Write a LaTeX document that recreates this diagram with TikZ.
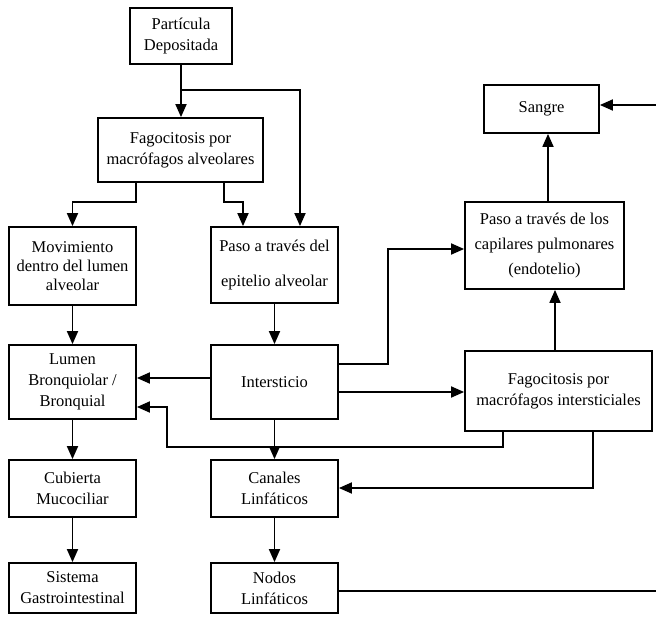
\documentclass[tikz,border=0pt]{standalone}
\usepackage{fontspec}
\setmainfont{Liberation Serif}
\usetikzlibrary{arrows.meta}

\begin{document}
\begin{tikzpicture}[x=1pt, y=-1pt,
  box/.style={draw, line width=1.8pt, inner sep=0pt, align=center,
              font=\fontsize{16.5}{21}\selectfont},
  link/.style={line width=1.8pt},
  arr/.style={line width=1.8pt, -{Triangle[length=13pt,width=11pt]}}]

% page frame
\fill[white] (0,0) rectangle (656,618);
\useasboundingbox (0,0) rectangle (656,618);

% ---- boxes ----
\node[box, minimum width=102pt, minimum height=56pt] (part) at (181,36)
  {Partícula\\Depositada};
\node[box, minimum width=165pt, minimum height=64pt] (fagoa) at (180.5,150)
  {Fagocitosis por\\macrófagos alveolares};
\node[box, minimum width=127pt, minimum height=78pt,
      font=\fontsize{16.5}{19}\selectfont] (mov) at (72.5,266)
  {Movimiento\\dentro del lumen\\alveolar};
\node[box, minimum width=127pt, minimum height=76pt] (epi) at (274.5,265)
  {Paso a través del\\[14pt]epitelio alveolar};
\node[box, minimum width=127pt, minimum height=74pt] (lumen) at (72.5,382)
  {Lumen\\Bronquiolar /\\Bronquial};
\node[box, minimum width=127pt, minimum height=74pt] (inter) at (274.5,382)
  {Intersticio};
\node[box, minimum width=127pt, minimum height=57pt] (cub) at (72.5,488.5)
  {Cubierta\\Mucociliar};
\node[box, minimum width=127pt, minimum height=57pt] (canal) at (274.5,488.5)
  {Canales\\Linfáticos};
\node[box, minimum width=127pt, minimum height=50pt] (sis) at (72.5,588)
  {Sistema\\Gastrointestinal};
\node[box, minimum width=127pt, minimum height=50pt] (nodos) at (274.5,588)
  {Nodos\\Linfáticos};
\node[box, minimum width=115pt, minimum height=48pt] (sangre) at (541.5,109)
  {Sangre};
\node[box, minimum width=159pt, minimum height=87pt,
      font=\fontsize{16.5}{25}\selectfont] (capil) at (544.5,245.5)
  {Paso a través de los\\capilares pulmonares\\(endotelio)};
\node[box, minimum width=187pt, minimum height=80pt] (fagoi) at (558.5,391)
  {Fagocitosis por\\macrófagos intersticiales};

% ---- bend points and free ends ----
\coordinate (split) at (181,90);
\coordinate (splitR) at (300,90);
\coordinate (fagoaL) at (136,202);
\coordinate (fagoaR) at (224,202);
\coordinate (capJog) at (388,364);
\coordinate (retour) at (167,447);
\coordinate (edgeTop) at (656,105);
\coordinate (edgeBot) at (656,591);

% ---- connectors ----
\draw[arr] (part.south) -- (fagoa.north -| part.south);
\draw[arr] (split) -- (splitR) -- (epi.north -| splitR);
\draw[arr] (fagoa.south -| fagoaL) -- (fagoaL) -| (mov.north);
\draw[arr] (fagoa.south -| fagoaR) -- (fagoaR) -- (243,202) -- (epi.north -| 243,0);
\draw[arr] (mov.south) -- (lumen.north);
\draw[arr] (epi.south) -- (inter.north);
\draw[arr] (inter.west |- 0,378) -- (lumen.east |- 0,378);
\draw[arr] (inter.east |- capJog) -- (capJog) |- (capil.west |- 0,249);
\draw[arr] (inter.east |- 0,392) -- (fagoi.west |- 0,392);
\draw[arr] (fagoi.north -| 555,0) -- (capil.south -| 555,0);
\draw[arr] (capil.north -| 548,0) -- (sangre.south -| 548,0);
\draw[arr] (fagoi.south -| 503,0) -- (503,447) -- (retour) -- (167,407) -- (lumen.east |- 0,407);
\draw[arr] (inter.south) -- (canal.north);
\draw[arr] (fagoi.south -| 593,0) -- (593,488) -- (canal.east |- 0,488);
\draw[arr] (canal.south) -- (nodos.north);
\draw[arr] (lumen.south) -- (cub.north);
\draw[arr] (cub.south) -- (sis.north);
\draw[link] (nodos.east |- edgeBot) -- (edgeBot);
\draw[arr] (edgeTop) -- (sangre.east |- edgeTop);
\end{tikzpicture}
\end{document}
